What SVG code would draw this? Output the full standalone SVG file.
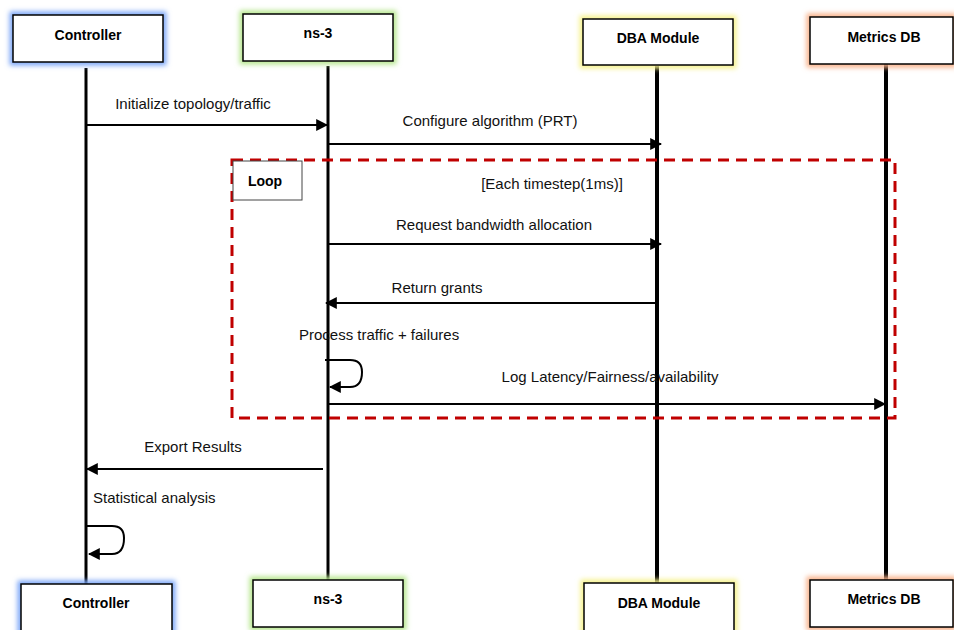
<svg xmlns="http://www.w3.org/2000/svg" width="954" height="630" viewBox="0 0 954 630">
<style>
.box{fill:#fff;stroke:#000;stroke-width:1.5}
.name{font-family:"Liberation Sans",Arial,sans-serif;font-size:14px;font-weight:bold;text-anchor:middle;fill:#000}
.lbl{font-family:"Liberation Sans",Arial,sans-serif;font-size:15px;fill:#111}
.life{stroke:#000;stroke-width:3}
.life2{stroke:#000;stroke-width:4}
.msg{stroke:#000;stroke-width:2;fill:none}
.loop{fill:none;stroke:#c00000;stroke-width:3;stroke-dasharray:11 7}
.g{stroke-width:7;filter:url(#glow)}
</style>
<defs>
<filter id="glow" x="-20%" y="-50%" width="140%" height="200%"><feGaussianBlur stdDeviation="2.5"/></filter>
<marker id="ah" viewBox="0 0 10 10" refX="9" refY="5" markerWidth="6" markerHeight="6" orient="auto-start-reverse" markerUnits="strokeWidth"><path d="M0,0 L10,5 L0,10 z" fill="#000"/></marker>
</defs>
<g id="lifelines">
<line class="life" x1="86" y1="68" x2="86" y2="584"/>
<line class="life" x1="328" y1="66" x2="328" y2="580"/>
<line class="life2" x1="657" y1="66" x2="657" y2="583"/>
<line class="life2" x1="886" y1="64" x2="886" y2="580"/>
</g>
<g id="loop">
<rect class="loop" x="232" y="160" width="663" height="258"/>
<rect x="233" y="161" width="69" height="39" fill="#fff" stroke="#444" stroke-width="1"/>
<text class="name" x="265" y="186" font-size="13">Loop</text>
<text class="lbl" x="552" y="189" text-anchor="middle">[Each timestep(1ms)]</text>
</g>
<g id="connectors">
<line class="msg" x1="86" y1="125" x2="327" y2="125" marker-end="url(#ah)"/>
<text class="lbl" x="193" y="109" text-anchor="middle">Initialize topology/traffic</text>
<line class="msg" x1="328" y1="144" x2="661" y2="144" marker-end="url(#ah)"/>
<text class="lbl" x="490" y="126" text-anchor="middle">Configure algorithm (PRT)</text>
<line class="msg" x1="328" y1="244" x2="661" y2="244" marker-end="url(#ah)"/>
<text class="lbl" x="494" y="230" text-anchor="middle">Request bandwidth allocation</text>
<line class="msg" x1="657" y1="303" x2="326" y2="303" marker-end="url(#ah)"/>
<text class="lbl" x="437" y="293" text-anchor="middle">Return grants</text>
<text class="lbl" x="299" y="340">Process traffic + failures</text>
<path class="msg" d="M325,360 L350,360 Q362,360 362,372 Q362,387 350,387 L330,387" marker-end="url(#ah)"/>
<line class="msg" x1="328" y1="404" x2="885" y2="404" marker-end="url(#ah)"/>
<text class="lbl" x="610" y="382" text-anchor="middle">Log Latency/Fairness/availability</text>
<line class="msg" x1="323" y1="469" x2="87" y2="469" marker-end="url(#ah)"/>
<text class="lbl" x="193" y="452" text-anchor="middle">Export Results</text>
<text class="lbl" x="93" y="503">Statistical analysis</text>
<path class="msg" d="M86,526 L112,526 Q124,526 124,538 Q124,554 112,554 L89,554" marker-end="url(#ah)"/>
</g>
<g id="controller-top">
<rect class="g" x="13" y="15" width="150" height="47" fill="none" stroke="#7aa6f7"/>
<rect class="box" x="13" y="15" width="150" height="47"/>
<text class="name" x="88" y="40">Controller</text>
</g>
<g id="ns3-top">
<rect class="g" x="243" y="14" width="150" height="47" fill="none" stroke="#b5e68c"/>
<rect class="box" x="243" y="14" width="150" height="47"/>
<text class="name" x="318" y="38">ns-3</text>
</g>
<g id="dba-top">
<rect class="g" x="583" y="19" width="150" height="46" fill="none" stroke="#f6f28a"/>
<rect class="box" x="583" y="19" width="150" height="46"/>
<text class="name" x="658" y="43">DBA Module</text>
</g>
<g id="metrics-top">
<rect class="g" x="810" y="17" width="143" height="47" fill="none" stroke="#f8b088"/>
<rect class="box" x="810" y="17" width="143" height="47"/>
<text class="name" x="884" y="42">Metrics DB</text>
</g>
<g id="controller-bottom">
<rect class="g" x="21" y="584" width="151" height="50" fill="none" stroke="#7aa6f7"/>
<rect class="box" x="21" y="584" width="151" height="50"/>
<text class="name" x="96" y="608">Controller</text>
</g>
<g id="ns3-bottom">
<rect class="g" x="253" y="580" width="150" height="47" fill="none" stroke="#b5e68c"/>
<rect class="box" x="253" y="580" width="150" height="47"/>
<text class="name" x="328" y="604">ns-3</text>
</g>
<g id="dba-bottom">
<rect class="g" x="584" y="583" width="150" height="50" fill="none" stroke="#f6f28a"/>
<rect class="box" x="584" y="583" width="150" height="50"/>
<text class="name" x="659" y="608">DBA Module</text>
</g>
<g id="metrics-bottom">
<rect class="g" x="810" y="580" width="143" height="47" fill="none" stroke="#f8b088"/>
<rect class="box" x="810" y="580" width="143" height="47"/>
<text class="name" x="884" y="604">Metrics DB</text>
</g>
</svg>
